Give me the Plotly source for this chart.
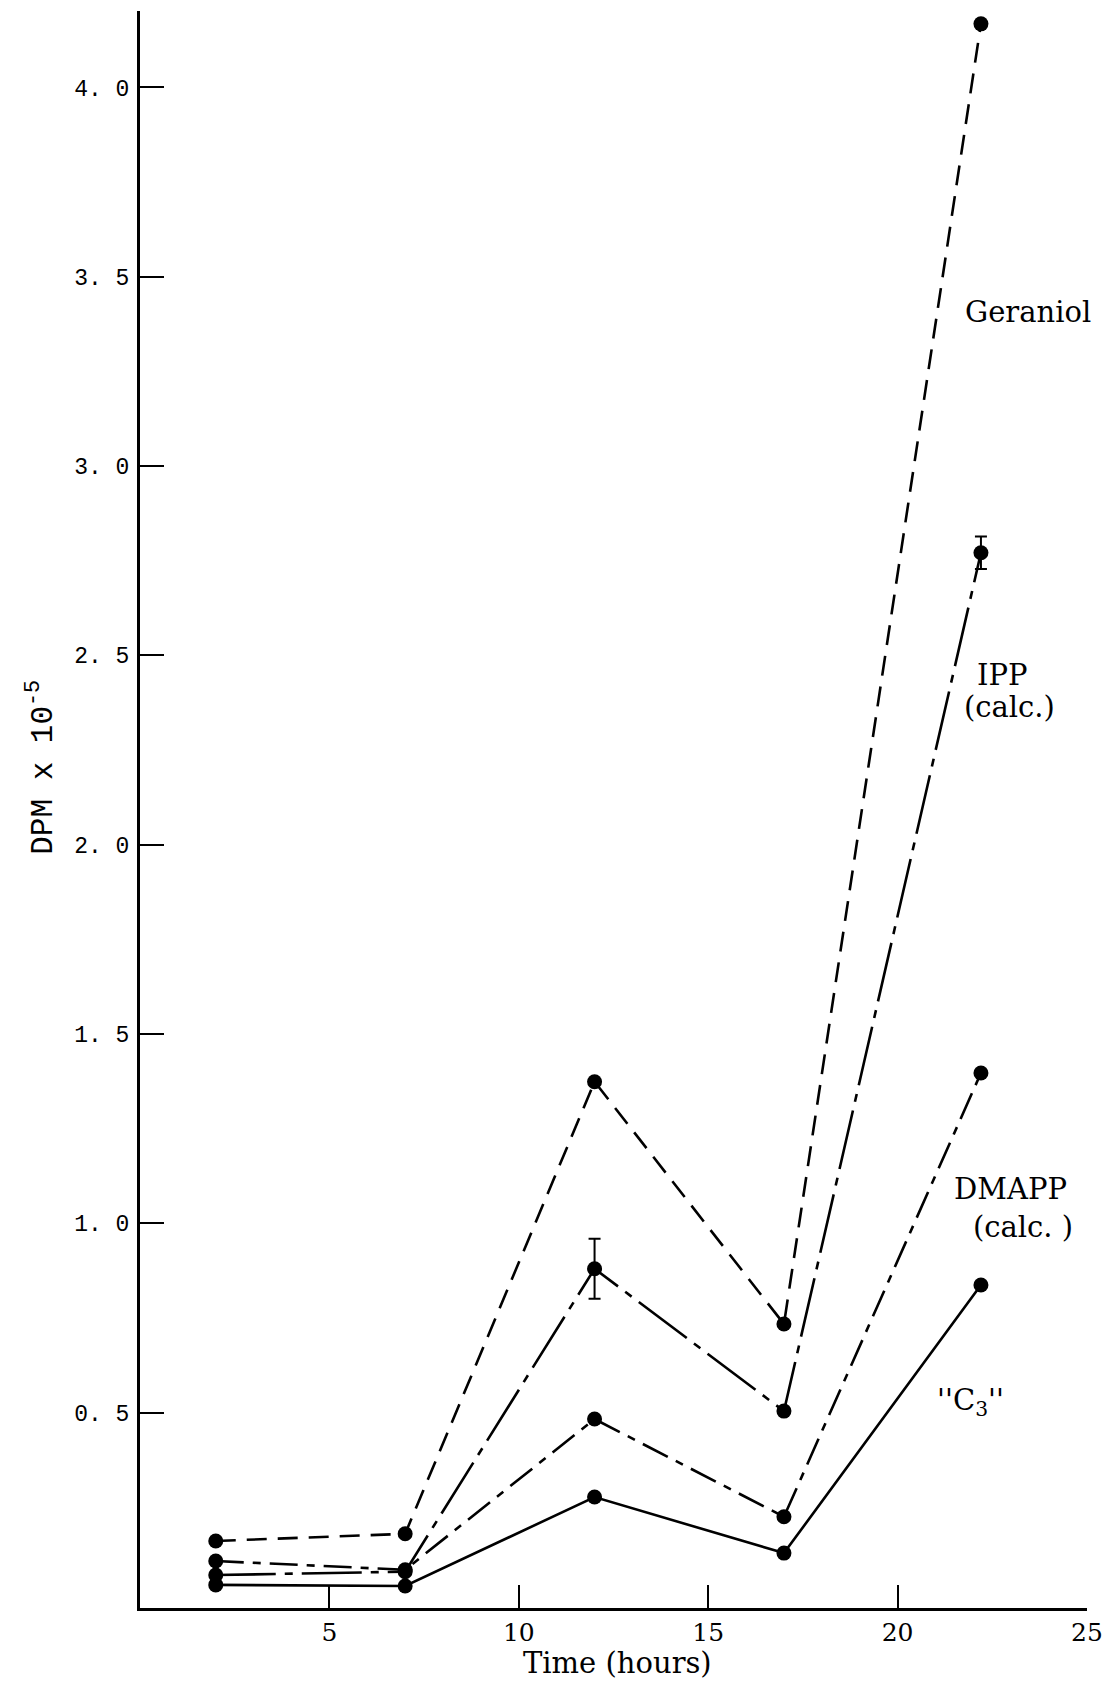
import plotly.graph_objects as go

# ---- data ----
times = [2, 7, 12, 17, 22.2]
geraniol = [0.161, 0.180, 1.374, 0.734, 4.168]
ipp = [0.071, 0.080, 0.880, 0.504, 2.771]
ipp_err = [0, 0, 0.079, 0, 0.043]
dmapp = [0.108, 0.085, 0.483, 0.225, 1.397]
c3 = [0.045, 0.042, 0.277, 0.129, 0.837]

y_ticks = [0.5, 1.0, 1.5, 2.0, 2.5, 3.0, 3.5, 4.0]
y_ticktext = ["0. 5", "1. 0", "1. 5", "2. 0", "2. 5", "3. 0", "3. 5", "4. 0"]
x_ticks = [5, 10, 15, 20, 25]
x_ticktext = ["5", "10", "15", "20", "25"]

labels = ["Geraniol", "IPP", "(calc.)", "DMAPP", "(calc. )", "''C<sub>3</sub>''"]
label_x = [23.43, 22.75, 22.96, 22.98, 23.32, 21.93]
label_y = [3.407, 2.449, 2.364, 1.091, 0.990, 0.528]

SERIF = "DejaVu Serif"
MONO = "Liberation Mono"

fig = go.Figure()

def add_series(y, dash, err=None):
    kw = {}
    if err is not None:
        kw["error_y"] = dict(type="data", array=err, visible=True, color="black",
                             thickness=2, width=6)
    fig.add_trace(go.Scatter(
        x=times, y=y, mode="lines+markers",
        line=dict(color="black", width=2.6, dash=dash),
        marker=dict(color="black", size=15),
        cliponaxis=False, showlegend=False, **kw))

add_series(c3, "solid")
add_series(dmapp, "28px,9px,8px,9px")
add_series(ipp, "60px,9px,8px,9px", ipp_err)
add_series(geraniol, "20px,11px")

for txt, lx, ly in zip(labels, label_x, label_y):
    fig.add_annotation(x=lx, y=ly, xref="x", yref="y", text=txt, showarrow=False,
                       xanchor="center", yanchor="middle",
                       font=dict(family=SERIF, size=29, color="black"))

fig.add_annotation(x=0.504, y=-0.0345, xref="paper", yref="paper",
                   text="Time (hours)", showarrow=False,
                   xanchor="center", yanchor="middle",
                   font=dict(family=SERIF, size=29, color="black"))
fig.add_annotation(x=-0.1048, y=0.5266, xref="paper", yref="paper",
                   text="DPM x 10<sup>-5</sup>", showarrow=False, textangle=-90,
                   xanchor="center", yanchor="middle",
                   font=dict(family=MONO, size=31, color="black"))

fig.update_layout(
    width=1114, height=1685,
    margin=dict(l=140, r=20, t=11, b=77),
    paper_bgcolor="white", plot_bgcolor="white",
    showlegend=False,
)
fig.update_xaxes(
    range=[0, 25], showgrid=False, zeroline=False,
    showline=True, linecolor="black", linewidth=2.5,
    ticks="inside", ticklen=23, tickwidth=2, tickcolor="black",
    tickvals=x_ticks, ticktext=x_ticktext, ticklabelstandoff=0,
    tickfont=dict(family=SERIF, size=25, color="black"),
)
fig.update_yaxes(
    range=[-0.016, 4.202], showgrid=False, zeroline=False,
    showline=True, linecolor="black", linewidth=3,
    ticks="inside", ticklen=24, tickwidth=2, tickcolor="black",
    tickvals=y_ticks, ticktext=y_ticktext, ticklabelstandoff=3,
    tickfont=dict(family=MONO, size=23, color="black"),
)

fig.write_html("out.html")
